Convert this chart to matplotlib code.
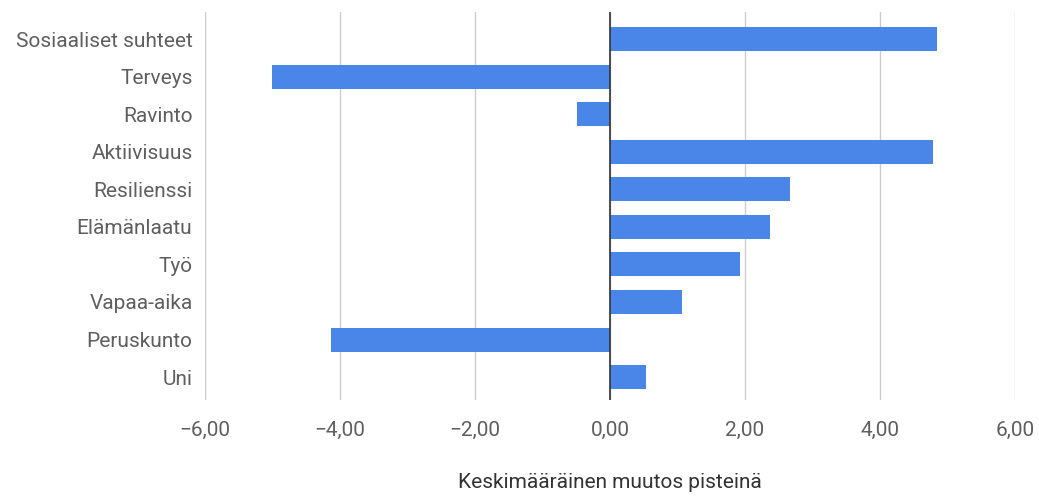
import matplotlib
matplotlib.use("Agg")
import matplotlib.pyplot as plt
from matplotlib.ticker import FuncFormatter

categories = ["Sosiaaliset suhteet", "Terveys", "Ravinto", "Aktiivisuus", "Resilienssi",
              "Elämänlaatu", "Työ", "Vapaa-aika", "Peruskunto", "Uni"]
values = [4.85, -5.01, -0.49, 4.78, 2.67, 2.37, 1.93, 1.06, -4.13, 0.53]
xticks = [-6, -4, -2, 0, 2, 4, 6]
xlabel = "Keskimääräinen muutos pisteinä"

plt.rcParams['font.family'] = ['Roboto', 'DejaVu Sans']

W, H = 1039, 496
fig = plt.figure(figsize=(W / 100, H / 100), dpi=100)
# plot area in pixels: x 205..1015, y 12..400
ax = fig.add_axes([205 / W, 1 - 400 / H, 810 / W, 388 / H])

y = list(range(len(categories)))
ax.barh(y, values, height=0.64, color="#4a86e8", zorder=3)
ax.set_ylim(9.61, -0.72)
ax.set_xlim(-6, 6)

ax.set_xticks(xticks)
ax.xaxis.set_major_formatter(FuncFormatter(lambda v, p: f"{v:.2f}".replace(".", ",").replace("-", "\u2212")))
ax.set_yticks(y)
ax.set_yticklabels(categories)
ax.tick_params(axis="both", length=0, labelsize=15, colors="#5f5f5f")
ax.tick_params(axis="x", pad=15)
ax.tick_params(axis="y", pad=9)

ax.grid(axis="x", color="#cccccc", linewidth=1, zorder=0)
ax.axvline(0, color="#333333", linewidth=1.2, zorder=4)
for s in ax.spines.values():
    s.set_visible(False)

ax.set_xlabel(xlabel, fontsize=15, color="#333333", labelpad=24)

fig.savefig("out.png", dpi=100)
